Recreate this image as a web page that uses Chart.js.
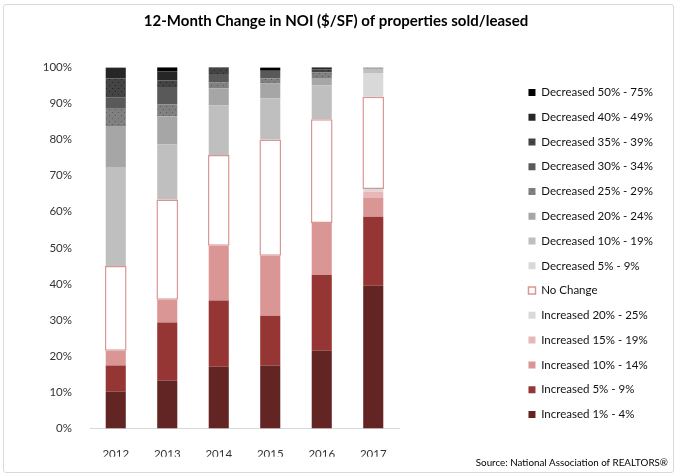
<!DOCTYPE html>
<html>
<head>
<meta charset="utf-8">
<title>12-Month Change in NOI</title>
<script src="https://cdn.jsdelivr.net/npm/chart.js@4"></script>
<style>
  html, body { margin: 0; padding: 0; background: #fff; }
  #wrap { position: relative; width: 677px; height: 476px; }
  #frame { position: absolute; left: 3px; top: 4px; width: 669px; height: 467px;
           border: 1px solid #d9d9d9; border-radius: 3px; pointer-events: none; }
</style>
</head>
<body>
<div id="wrap">
  <canvas id="grafico" width="677" height="476"></canvas>
  <div id="frame"></div>
</div>
<script>
// datos (% de propiedades por año)
const anios = ["2012", "2013", "2014", "2015", "2016", "2017"];

const inc1a4   = [10.2, 13.3, 17.1, 17.4, 21.5, 39.5];
const inc5a9   = [7.2, 16.0, 18.3, 13.8, 21.0, 19.1];
const inc10a14 = [4.1, 6.3, 15.2, 16.6, 14.4, 5.2];
const inc15a19 = [0, 0, 0, 0, 0, 1.7];
const inc20a25 = [0, 0, 0, 0, 0, 0.8];
const sinCambio = [23.5, 27.8, 25.1, 32.2, 28.7, 25.5];
const dec5a9   = [0, 0, 0, 0, 0, 6.6];
const dec10a19 = [27.4, 15.3, 13.8, 11.4, 9.4, 1.2];
const dec20a24 = [11.3, 7.7, 4.7, 4.1, 2.0, 0];
const dec25a29 = [4.8, 3.3, 1.6, 1.4, 1.5, 0.3];
const dec30a34 = [3.2, 4.8, 2.3, 2.1, 0, 0];
const dec35a39 = [5.2, 1.8, 1.8, 0, 0.9, 0];
const dec40a49 = [3.0, 2.5, 0.2, 0, 0.6, 0];
const dec50a75 = [0, 1.2, 0, 0.9, 0, 0];

const etiquetas = [
  "Increased 1% - 4%", "Increased 5% - 9%", "Increased 10% - 14%",
  "Increased 15% - 19%", "Increased 20% - 25%", "No Change",
  "Decreased 5% - 9%", "Decreased 10% - 19%", "Decreased 20% - 24%",
  "Decreased 25% - 29%", "Decreased 30% - 34%", "Decreased 35% - 39%",
  "Decreased 40% - 49%", "Decreased 50% - 75%"
];
const valores = [inc1a4, inc5a9, inc10a14, inc15a19, inc20a25, sinCambio,
  dec5a9, dec10a19, dec20a24, dec25a29, dec30a34, dec35a39, dec40a49, dec50a75];

const colores = ["#632523", "#963634", "#DA9694", "#E6B8B7", "#D9D9D9", "#FFFFFF",
  "#D9D9D9", "#BFBFBF", "#A6A6A6", "#808080", "#595959", "#404040", "#262626", "#000000"];

Chart.defaults.font.family = "Lato, 'Open Sans', sans-serif";

const canvas = document.getElementById("grafico");

// relleno punteado como el de Excel
function patronPuntos(base, punto) {
  const c = document.createElement("canvas");
  c.width = 6;
  c.height = 6;
  const g = c.getContext("2d");
  g.fillStyle = base;
  g.fillRect(0, 0, 6, 6);
  g.fillStyle = punto;
  g.fillRect(1, 1, 1, 1);
  g.fillRect(4, 4, 1, 1);
  return canvas.getContext("2d").createPattern(c, "repeat");
}

const rellenos = colores.slice();
rellenos[9] = patronPuntos("#808080", "#5a5a5a");
rellenos[11] = patronPuntos("#444444", "#222222");

const datasets = etiquetas.map((nombre, i) => {
  const esSinCambio = nombre === "No Change";
  return {
    label: nombre,
    data: valores[i].map(v => (v === 0 ? null : v)),
    backgroundColor: rellenos[i],
    borderColor: esSinCambio ? "#DA9694" : colores[i],
    borderWidth: esSinCambio ? 1.5 : 0,
    borderSkipped: false,
    barPercentage: esSinCambio ? 0.42 : 0.39,
    categoryPercentage: 1
  };
});

// mueve la leyenda a la derecha, dejando hueco como en el original
const posLeyenda = {
  id: "posLeyenda",
  beforeInit(chart) {
    const fitOriginal = chart.legend.fit;
    chart.legend.fit = function () {
      fitOriginal.call(this);
      this.width = 269;
    };
  },
  afterLayout(chart) {
    chart.legend.left = 515.2;
    chart.legend.top = 73.4;
  }
};

new Chart(canvas, {
  type: "bar",
  data: { labels: anios, datasets: datasets },
  plugins: [posLeyenda],
  options: {
    responsive: false,
    animation: false,
    layout: { padding: { left: 4, right: 9, top: 0, bottom: 0 } },
    scales: {
      x: {
        stacked: true,
        grid: { display: false },
        border: { color: "#d9d9d9", width: 1 },
        ticks: { color: "#333", font: { size: 11.5 }, padding: 10.5 },
        afterFit(s) { s.height = 28.2; }
      },
      y: {
        stacked: true,
        min: 0,
        max: 100,
        grid: { display: false },
        border: { display: false },
        ticks: { stepSize: 10, callback: v => v + "%", color: "#333", font: { size: 11.5 }, padding: 10 },
        afterFit(s) { s.width = 86; }
      }
    },
    plugins: {
      title: {
        display: true,
        text: "12-Month Change in NOI ($/SF) of properties sold/leased",
        color: "#000",
        font: { size: 15, weight: "bold" },
        padding: { top: 12, bottom: 37.2 }
      },
      subtitle: {
        display: true,
        text: "Source: National Association of REALTORS\u00AE",
        position: "bottom",
        align: "end",
        color: "#000",
        font: { size: 9.8 },
        padding: { top: 0, bottom: 7.6 }
      },
      legend: {
        position: "right",
        align: "start",
        reverse: true,
        labels: { boxWidth: 7, boxHeight: 7, padding: 13.27, color: "#111", font: { size: 11.5 } }
      },
      tooltip: { enabled: false }
    }
  }
});
</script>
</body>
</html>
